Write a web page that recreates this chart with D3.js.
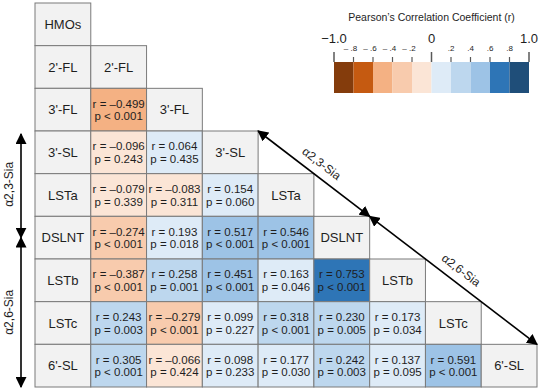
<!DOCTYPE html>
<html>
<head>
<meta charset="utf-8">
<script src="https://cdn.jsdelivr.net/npm/d3@7"></script>
<style>
  body { margin: 0; background: #fff; }
  svg { font-family: "Liberation Sans", Arial, sans-serif; }
</style>
</head>
<body>
<div id="chart"></div>
<script>
// HMOs in matrix order
const hmos = ["2'-FL", "3'-FL", "3'-SL", "LSTa", "DSLNT", "LSTb", "LSTc", "6'-SL"];

// lower triangle, row i holds correlations with hmos[0..i-1]
const rValues = [
    [],
    [-0.499],
    [-0.096, 0.064],
    [-0.079, -0.083, 0.154],
    [-0.274, 0.193, 0.517, 0.546],
    [-0.387, 0.258, 0.451, 0.163, 0.753],
    [0.243, -0.279, 0.099, 0.318, 0.230, 0.173],
    [0.305, -0.066, 0.098, 0.177, 0.242, 0.137, 0.591]
];
const pValues = [
    [],
    ["< 0.001"],
    ["= 0.243", "= 0.435"],
    ["= 0.339", "= 0.311", "= 0.060"],
    ["< 0.001", "= 0.018", "< 0.001", "< 0.001"],
    ["< 0.001", "= 0.001", "< 0.001", "= 0.046", "< 0.001"],
    ["= 0.003", "< 0.001", "= 0.227", "< 0.001", "= 0.005", "= 0.034"],
    ["< 0.001", "= 0.424", "= 0.233", "= 0.030", "= 0.003", "= 0.095", "< 0.001"]
];

// legend bins
const binEdges = [-0.8, -0.6, -0.4, -0.2, 0, 0.2, 0.4, 0.6, 0.8];
const binColors = ["#843c0c", "#c55a11", "#f4b183", "#f8cbad", "#fbe5d6",
                   "#deebf7", "#bdd7ee", "#9dc3e6", "#2e75b6", "#1f4e79"];
const majorTicks = [-1, 0, 1];
const minorTicks = [-0.8, -0.6, -0.4, -0.2, 0.2, 0.4, 0.6, 0.8];

// sialylated groups
const group23 = {label: "\u03b12,3-Sia", from: "3'-SL", to: "DSLNT"};
const group26 = {label: "\u03b12,6-Sia", from: "DSLNT", to: "6'-SL"};

const width = 540, height = 392;
const ink = "#1e1e1e";

const svg = d3.select("#chart").append("svg")
    .attr("width", width)
    .attr("height", height);

const x = d3.scaleBand()
    .domain(["_label", ...hmos])
    .range([35, 537]);

const y = d3.scaleBand()
    .domain(["HMOs", ...hmos])
    .range([3, 387]);

const color = d3.scaleThreshold()
    .domain(binEdges)
    .range(binColors);

// build cells
let cells = [{row: "HMOs", col: "_label", type: "label", text: "HMOs"}];
hmos.forEach((h, i) => {
    cells.push({row: h, col: "_label", type: "label", text: h});
    rValues[i].forEach((r, j) => {
        cells.push({row: h, col: hmos[j], type: "value", r: r, p: pValues[i][j]});
    });
    cells.push({row: h, col: h, type: "label", text: h});
});

const fmt = v => (v < 0 ? "\u2013" : "") + Math.abs(v).toFixed(3);

const cell = svg.append("g").selectAll("g")
    .data(cells)
    .join("g")
    .attr("transform", d => `translate(${x(d.col)},${y(d.row)})`);

cell.append("rect")
    .attr("width", x.bandwidth())
    .attr("height", y.bandwidth())
    .attr("fill", d => d.type === "label" ? "#f2f2f2" : color(d.r))
    .attr("stroke", "#7a7a7a")
    .attr("stroke-width", 1);

cell.filter(d => d.type === "label").append("text")
    .attr("x", x.bandwidth() / 2)
    .attr("y", y.bandwidth() / 2)
    .attr("dy", "0.36em")
    .attr("text-anchor", "middle")
    .attr("font-size", 13)
    .attr("fill", ink)
    .text(d => d.text);

const vals = cell.filter(d => d.type === "value");
vals.append("text")
    .attr("x", x.bandwidth() / 2)
    .attr("y", y.bandwidth() / 2 - 6)
    .attr("dy", "0.36em")
    .attr("text-anchor", "middle")
    .attr("font-size", 11.5)
    .attr("fill", ink)
    .text(d => "r = " + fmt(d.r));
vals.append("text")
    .attr("x", x.bandwidth() / 2)
    .attr("y", y.bandwidth() / 2 + 6.5)
    .attr("dy", "0.36em")
    .attr("text-anchor", "middle")
    .attr("font-size", 11.5)
    .attr("fill", ink)
    .text(d => "p " + d.p);

// legend
const lx = d3.scaleLinear().domain([-1, 1]).range([334, 529]);
const legend = svg.append("g");
const bins = [-1, ...binEdges].map((b, i) => ({x0: b, x1: i < binEdges.length ? binEdges[i] : 1}));

legend.append("text")
    .attr("x", (lx(-1) + lx(1)) / 2)
    .attr("y", 17)
    .attr("dy", "0.36em")
    .attr("text-anchor", "middle")
    .attr("font-size", 10.5)
    .attr("fill", ink)
    .text("Pearson\u2019s Correlation Coefficient (r)");

legend.selectAll("rect")
    .data(bins)
    .join("rect")
    .attr("x", d => lx(d.x0))
    .attr("y", 62)
    .attr("width", d => lx(d.x1) - lx(d.x0))
    .attr("height", 31)
    .attr("fill", d => color((d.x0 + d.x1) / 2));

legend.selectAll(".major")
    .data(majorTicks)
    .join("line")
    .attr("class", "major")
    .attr("x1", d => lx(d)).attr("x2", d => lx(d))
    .attr("y1", 52).attr("y2", 62)
    .attr("stroke", "#595959")
    .attr("stroke-width", 1.5);

legend.selectAll(".minor")
    .data(minorTicks)
    .join("line")
    .attr("class", "minor")
    .attr("x1", d => lx(d)).attr("x2", d => lx(d))
    .attr("y1", 57).attr("y2", 62)
    .attr("stroke", "#595959")
    .attr("stroke-width", 1.2);

legend.selectAll(".majorLabel")
    .data(majorTicks)
    .join("text")
    .attr("class", "majorLabel")
    .attr("x", d => lx(d))
    .attr("y", 43)
    .attr("text-anchor", "middle")
    .attr("font-size", 13)
    .attr("fill", ink)
    .text(d => d === 0 ? "0" : (d < 0 ? "\u22121.0" : "1.0"));

legend.selectAll(".minorLabel")
    .data(minorTicks)
    .join("text")
    .attr("class", "minorLabel")
    .attr("x", d => lx(d) + (d < 0 ? -3 : 0))
    .attr("y", 51)
    .attr("text-anchor", "middle")
    .attr("font-size", 8)
    .attr("fill", ink)
    .text(d => (d < 0 ? "\u2013 " : "") + d3.format(".1f")(Math.abs(d)).replace(/^0/, ""));

// arrows
const defs = svg.append("defs");
defs.append("marker")
    .attr("id", "head")
    .attr("viewBox", "0 0 10 10")
    .attr("refX", 9).attr("refY", 5)
    .attr("markerWidth", 11).attr("markerHeight", 11)
    .attr("markerUnits", "userSpaceOnUse")
    .attr("orient", "auto-start-reverse")
    .append("path")
    .attr("d", "M0,0 L10,5 L0,10 Z")
    .attr("fill", "#000");

const arrows = svg.append("g");

function drawArrow(x1, y1, x2, y2) {
    arrows.append("line")
        .attr("x1", x1).attr("y1", y1)
        .attr("x2", x2).attr("y2", y2)
        .attr("stroke", "#000")
        .attr("stroke-width", 1.6)
        .attr("marker-start", "url(#head)")
        .attr("marker-end", "url(#head)");
}

// left side vertical arrows
const ax = 21;
const split = y(group23.to) + y.bandwidth() / 2;
drawArrow(ax, y(group23.from) + 3, ax, split);
drawArrow(ax, split, ax, y(group26.to) + y.bandwidth());

[[group23, (y(group23.from) + split) / 2], [group26, (split + y(group26.to) + y.bandwidth()) / 2]]
    .forEach(([g, cy]) => {
        arrows.append("text")
            .attr("transform", `translate(9,${cy}) rotate(-90)`)
            .attr("dy", "0.36em")
            .attr("text-anchor", "middle")
            .attr("font-size", 12)
            .attr("fill", ink)
            .text(g.label);
    });

// diagonal arrows along the triangle edge
[group23, group26].forEach(g => {
    const x1 = x(g.from) + x.bandwidth(), y1 = y(g.from);
    const x2 = x(g.to) + x.bandwidth(), y2 = y(g.to);
    drawArrow(x1, y1, x2, y2);
    const ang = Math.atan2(y2 - y1, x2 - x1);
    const mx = (x1 + x2) / 2 + Math.sin(ang) * 13;
    const my = (y1 + y2) / 2 - Math.cos(ang) * 13;
    arrows.append("text")
        .attr("transform", `translate(${mx},${my}) rotate(${ang * 180 / Math.PI})`)
        .attr("dy", "0.36em")
        .attr("text-anchor", "middle")
        .attr("font-size", 12)
        .attr("fill", ink)
        .text(g.label);
});
</script>
</body>
</html>
